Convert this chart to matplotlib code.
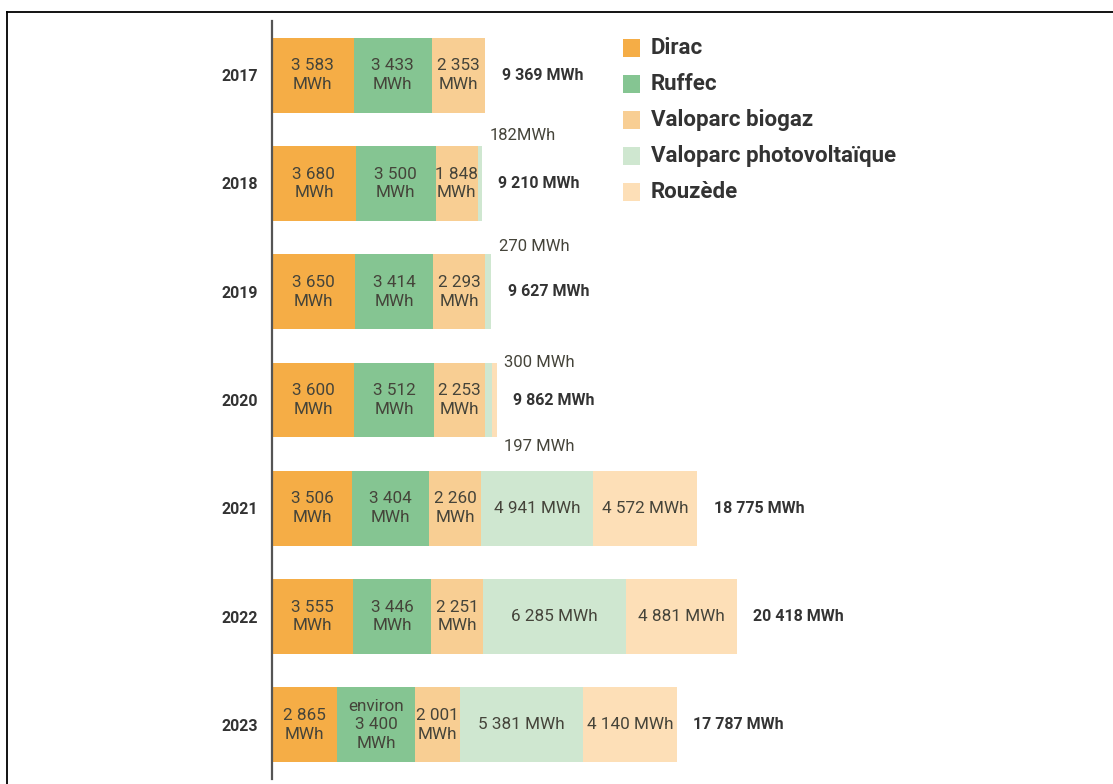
import numpy as np
import matplotlib.pyplot as plt
from matplotlib.patches import Rectangle
from matplotlib.lines import Line2D

#%% data
years = ['2017', '2018', '2019', '2020', '2021', '2022', '2023']
sites = ['Dirac', 'Ruffec', 'Valoparc biogaz', 'Valoparc photovoltaïque', 'Rouzède']
colors = ['#F5AD46', '#85C592', '#F8CE93', '#CFE7D0', '#FDDFB7']

dirac = [3583, 3680, 3650, 3600, 3506, 3555, 2865]
ruffec = [3433, 3500, 3414, 3512, 3404, 3446, 3400]
biogaz = [2353, 1848, 2293, 2253, 2260, 2251, 2001]
photovolt = [0, 182, 270, 300, 4941, 6285, 5381]
rouzede = [0, 0, 0, 197, 4572, 4881, 4140]
totals = ['9 369 MWh', '9 210 MWh', '9 627 MWh', '9 862 MWh',
          '18 775 MWh', '20 418 MWh', '17 787 MWh']

# labels written inside the segments ('' = none)
lab_dirac = ['3 583\nMWh', '3 680\nMWh', '3 650\nMWh', '3 600\nMWh',
             '3 506\nMWh', '3 555\nMWh', '2 865\nMWh']
lab_ruffec = ['3 433\nMWh', '3 500\nMWh', '3 414\nMWh', '3 512\nMWh',
              '3 404\nMWh', '3 446\nMWh', 'environ\n3 400\nMWh']
lab_biogaz = ['2 353\nMWh', '1 848\nMWh', '2 293\nMWh', '2 253\nMWh',
              '2 260\nMWh', '2 251\nMWh', '2 001\nMWh']
lab_pv = ['', '', '', '', '4 941 MWh', '6 285 MWh', '5 381 MWh']
lab_rz = ['', '', '', '', '4 572 MWh', '4 881 MWh', '4 140 MWh']

# small values shown outside the bars: (text, year index, y shift)
small_labels = [('182MWh', 1, -0.44), ('270 MWh', 2, -0.42),
                ('300 MWh', 3, -0.35), ('197 MWh', 3, 0.43)]

#%% plot
reg = ['Roboto', 'DejaVu Sans']
txtc = '#45443a'

fig = plt.figure(figsize=(11.13, 7.84), dpi=100)
ax = fig.add_axes([272/1113, 5/784, 828/1113, 758/784])

series = [dirac, ruffec, biogaz, photovolt, rouzede]
labels = [lab_dirac, lab_ruffec, lab_biogaz, lab_pv, lab_rz]
y = np.arange(len(years))
left = np.zeros(len(years))
for vals, labs, col in zip(series, labels, colors):
    vals = np.array(vals, dtype=float)
    ax.barh(y, vals, left=left, height=0.69, color=col, linewidth=0)
    for i, (v, t) in enumerate(zip(vals, labs)):
        if t:
            ax.text(left[i] + v/2, y[i], t, ha='center', va='center',
                    fontsize=12.3, color=txtc, family=reg, linespacing=1.3)
    left += vals

for i, t in enumerate(totals):
    ax.text(left[i] + 720, y[i], t, ha='left', va='center', fontsize=11.5,
            fontweight='bold', color='#333333', family=reg)

for t, i, dy in small_labels:
    ax.text(left[i] + 330, y[i] + dy, t, ha='left', va='center',
            fontsize=12, color=txtc, family=reg)

ax.set_yticks(y)
ax.set_yticklabels(years, fontsize=11.5, fontweight='bold', color='#333333', family=reg)
ax.tick_params(axis='y', length=0, pad=10)
ax.set_xticks([])
ax.set_xlim(0, 36360)
ax.set_ylim(6.5, -0.5)
for s in ['top', 'right', 'bottom']:
    ax.spines[s].set_visible(False)
ax.spines['left'].set_color('#555555')
ax.spines['left'].set_linewidth(1.6)
ax.patch.set_alpha(0)

# legend
for k, (name, col) in enumerate(zip(sites, colors)):
    yc = 1 - (48 + 36*k)/784
    fig.add_artist(Rectangle((623/1113, yc - 9/784), 17/1113, 18/784,
                             transform=fig.transFigure, color=col, lw=0))
    fig.text(651/1113, yc, name, ha='left', va='center', fontsize=16,
             fontweight='bold', color='#333333', family=reg)

# frame
fig.add_artist(Line2D([7/1113, 7/1113], [0, 1 - 12/784], transform=fig.transFigure,
                      color='black', lw=1.3))
fig.add_artist(Line2D([7/1113, 1], [1 - 12/784, 1 - 12/784], transform=fig.transFigure,
                      color='black', lw=1.3))

fig.savefig('out.png', dpi=100)
